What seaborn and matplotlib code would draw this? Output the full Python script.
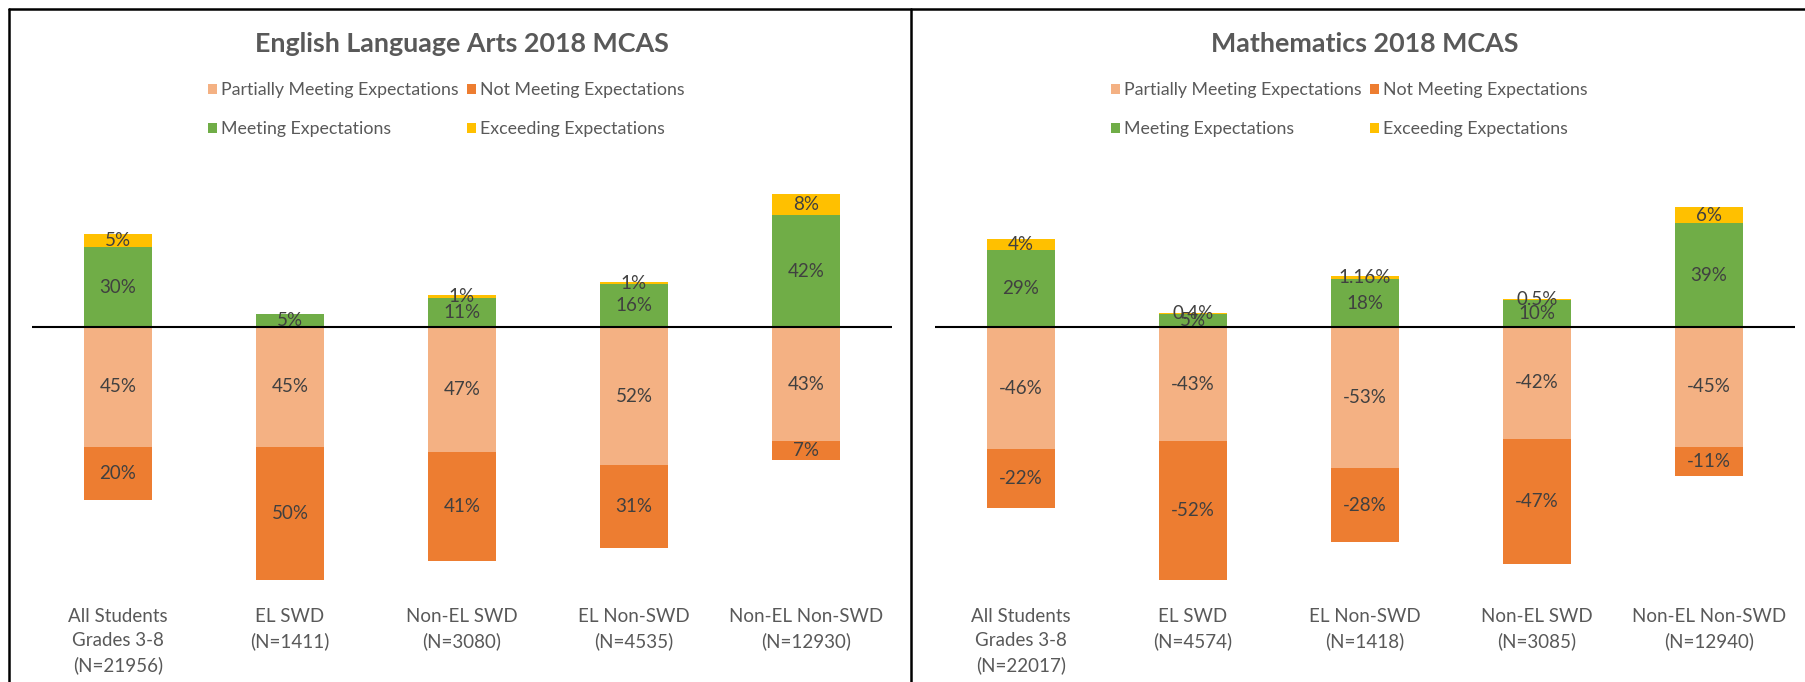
import matplotlib
matplotlib.use("Agg")
import matplotlib.pyplot as plt
from matplotlib.lines import Line2D
from matplotlib.patches import Patch
import seaborn as sns

# ---------------- data ----------------
ela_groups = ["All Students\nGrades 3-8\n(N=21956)", "EL SWD\n(N=1411)",
              "Non-EL SWD\n(N=3080)", "EL Non-SWD\n(N=4535)",
              "Non-EL Non-SWD\n(N=12930)"]
ela_partially = [-45, -45, -47, -52, -43]
ela_not = [-20, -50, -41, -31, -7]
ela_meeting = [30, 5, 11, 16, 42]
ela_exceeding = [5, 0, 1, 1, 8]

math_groups = ["All Students\nGrades 3-8\n(N=22017)", "EL SWD\n(N=4574)",
               "EL Non-SWD\n(N=1418)", "Non-EL SWD\n(N=3085)",
               "Non-EL Non-SWD\n(N=12940)"]
math_partially = [-46, -43, -53, -42, -45]
math_not = [-22, -52, -28, -47, -11]
math_meeting = [29, 5, 18, 10, 39]
math_exceeding = [4, 0.4, 1.16, 0.5, 6]

titles = ["English Language Arts 2018 MCAS", "Mathematics 2018 MCAS"]
legend_names = ["Partially Meeting Expectations", "Not Meeting Expectations",
                "Meeting Expectations", "Exceeding Expectations"]

C_PART = "#F4B183"
C_NOT = "#ED7D31"
C_MEET = "#70AD47"
C_EXC = "#FFC000"
TXT = "#595959"
LBL = "#404040"

FONT = ["Lato", "DejaVu Sans"]

sns.set_theme(style="white")
plt.rcParams["font.family"] = FONT

W, H = 1806, 682
fig = plt.figure(figsize=(W / 100, H / 100), dpi=100)
fig.patch.set_facecolor("white")


def fx(px):
    return px / W


def fy(px):
    return 1 - px / H


ax_top_px, ax_bot_px = 167.4, 593.0
axes_left_px = [32, 935]
ax_w_px = 860
LBL_FS = 13.5


def draw(ax, groups, part, notm, meet, exc, signed):
    sns.barplot(x=groups, y=meet, color=C_MEET, saturation=1, width=0.4,
                errorbar=None, ax=ax, linewidth=0)
    ax.bar_label(ax.containers[-1], labels=[f"{v:g}%" if v else "" for v in meet],
                 label_type="center", fontsize=LBL_FS, color=LBL)
    sns.barplot(x=groups, y=exc, bottom=meet, color=C_EXC, saturation=1,
                width=0.4, errorbar=None, ax=ax, linewidth=0)
    ax.bar_label(ax.containers[-1], labels=[f"{v:g}%" if v else "" for v in exc],
                 label_type="center", fontsize=LBL_FS, color=LBL)
    sns.barplot(x=groups, y=part, color=C_PART, saturation=1, width=0.4,
                errorbar=None, ax=ax, linewidth=0)
    ax.bar_label(ax.containers[-1],
                 labels=[f"{(v if signed else abs(v)):g}%" for v in part],
                 label_type="center", fontsize=LBL_FS, color=LBL)
    sns.barplot(x=groups, y=notm, bottom=part, color=C_NOT, saturation=1,
                width=0.4, errorbar=None, ax=ax, linewidth=0)
    ax.bar_label(ax.containers[-1],
                 labels=[f"{(v if signed else abs(v)):g}%" for v in notm],
                 label_type="center", fontsize=LBL_FS, color=LBL)

    ax.axhline(0, color="black", lw=1.5, zorder=5)
    ax.set_xlim(-0.5, 4.5)
    ax.set_ylim(-100, 60)
    ax.set_yticks([])
    ax.set_xticks(range(len(groups)))
    ax.set_xticklabels(groups, fontsize=13.5, color=TXT, linespacing=1.5)
    ax.tick_params(axis="x", length=0, pad=11)
    ax.set_xlabel("")
    ax.set_ylabel("")
    for s in ax.spines.values():
        s.set_visible(False)
    ax.set_facecolor("none")


datasets = [
    (ela_groups, ela_partially, ela_not, ela_meeting, ela_exceeding, False),
    (math_groups, math_partially, math_not, math_meeting, math_exceeding, True),
]

legend_left_px = [208, 1111]

for i, (g, p, n, m, e, signed) in enumerate(datasets):
    ax = fig.add_axes([fx(axes_left_px[i]), fy(ax_bot_px), fx(ax_w_px),
                       (ax_bot_px - ax_top_px) / H])
    draw(ax, g, p, n, m, e, signed)
    cx = axes_left_px[i] + ax_w_px / 2
    fig.text(fx(cx), fy(44), titles[i], ha="center", va="center",
             fontsize=19.4, fontweight="bold", color=TXT)
    colors = [C_PART, C_NOT, C_MEET, C_EXC]
    handles = [Patch(facecolor=c, edgecolor="none") for c in colors]
    order = [0, 2, 1, 3]
    leg = fig.legend([handles[k] for k in order], [legend_names[k] for k in order],
                     ncol=2, loc="upper left",
                     bbox_to_anchor=(fx(legend_left_px[i]), fy(82)),
                     frameon=False, fontsize=12.8, handlelength=0.5,
                     handleheight=0.5, handletextpad=0.25, columnspacing=0.45,
                     labelspacing=1.3, borderpad=0, borderaxespad=0)
    for t in leg.get_texts():
        t.set_color(TXT)

# panel borders
lw = 1.8
fig.add_artist(Line2D([fx(9), fx(9)], [0, fy(9)], color="black", lw=lw,
                      transform=fig.transFigure))
fig.add_artist(Line2D([fx(911), fx(911)], [0, fy(9)], color="black", lw=lw,
                      transform=fig.transFigure))
fig.add_artist(Line2D([fx(9), 1], [fy(9), fy(9)], color="black", lw=lw,
                      transform=fig.transFigure))

fig.savefig("out.png", dpi=100, facecolor="white")
